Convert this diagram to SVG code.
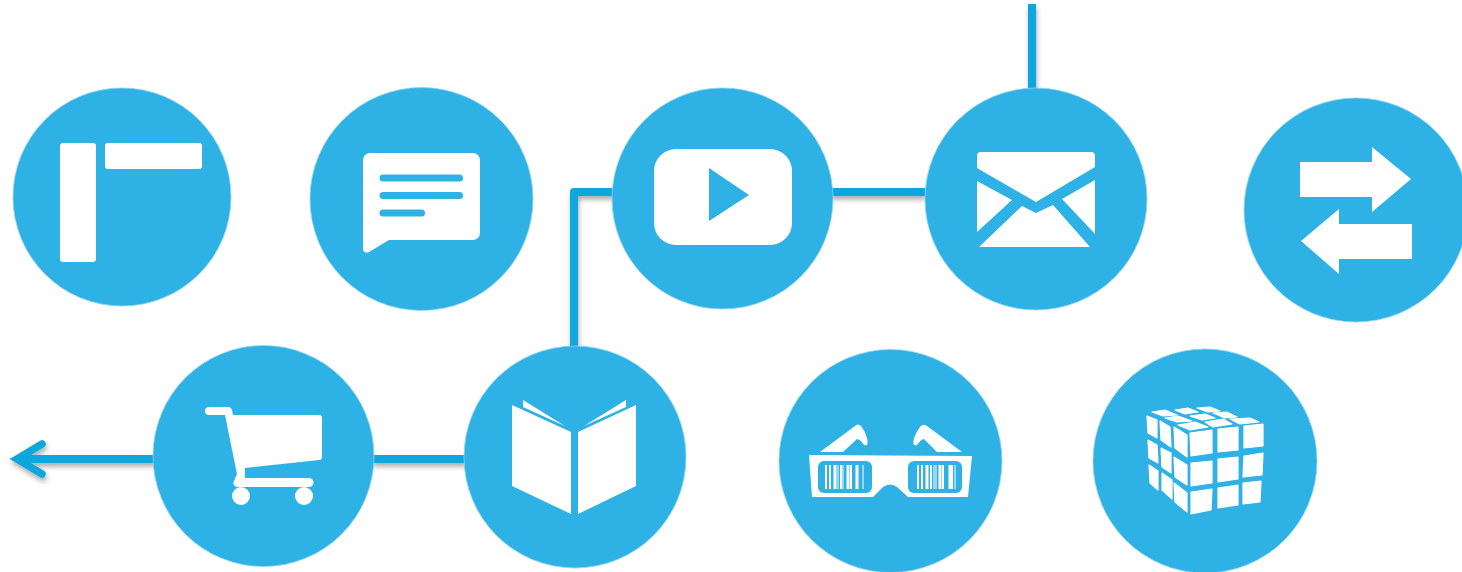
<svg xmlns="http://www.w3.org/2000/svg" width="1462" height="572" viewBox="0 0 1462 572">
<defs>
<filter id="sh" x="-20%" y="-20%" width="140%" height="140%" filterUnits="objectBoundingBox"><feDropShadow dx="1" dy="3.500" stdDeviation="2.500" flood-color="#000" flood-opacity="0.33"/></filter>
</defs>
<style>
.c{fill:#2eb1e5;stroke:#8fd3ef;stroke-width:.8}
.w{fill:#fff}
.t{fill:#fff;stroke:#fff;stroke-width:1.200;stroke-linejoin:round}
.b{fill:#2eb1e5}
.l{fill:none;stroke:#0ca6dd;stroke-width:8;stroke-linejoin:round}
.bl{fill:none;stroke:#2eb1e5;stroke-linecap:round}
</style>
<rect width="1462" height="572" fill="#fff"/>
<g id="connectors" filter="url(#sh)">
<path class="l" d="M1032 4V92"/>
<path class="l" d="M925 192H830"/>
<path class="l" d="M615 192H574V350"/>
<path class="l" d="M466 459H372"/>
<path class="l" d="M155 459H20"/>
<path d="M42 444L17 459L42 474" fill="none" stroke="#0ca6dd" stroke-width="7.500" stroke-linecap="round"/>
<path d="M10 459L30 449V469Z" fill="#0ca6dd"/>
</g>
<g id="node-layout">
<circle class="c" cx="122" cy="197" r="109"/>
<rect class="w" x="60" y="143" width="36" height="119" rx="3"/>
<rect class="w" x="105" y="143" width="97" height="26" rx="3"/>
</g>
<g id="node-chat">
<circle class="c" cx="421.500" cy="199" r="111.500"/>
<path class="w" d="M370 153H473a7 7 0 0 1 7 7V233a7 7 0 0 1 -7 7H389L369 252Q363 254 363 248V160a7 7 0 0 1 7 -7Z"/>
<path class="bl" stroke-width="7" d="M383 178H459.500M383 195.500H459.500M383 213H421.500"/>
</g>
<g id="node-video">
<circle class="c" cx="722.500" cy="198.500" r="110.500"/>
<rect class="w" x="654" y="149" width="138" height="96" rx="22"/>
<path class="b" d="M709 168L749 195L709 221Z"/>
</g>
<g id="node-mail">
<circle class="c" cx="1036" cy="199" r="111"/>
<path class="w" d="M981 152H1091a4 4 0 0 1 4 4V167L1036 202L977 168V156a4 4 0 0 1 4 -4Z"/>
<path class="w" d="M977 181L1012 200L977 232Z"/>
<path class="w" d="M1095 180L1062 199L1095 234Z"/>
<path class="w" d="M1022 206L1036 213L1053 205L1090 247H979Z"/>
</g>
<g id="node-exchange">
<circle class="c" cx="1356" cy="210" r="112"/>
<path class="w" d="M1300 162H1372V147L1411 179L1372 212V197H1300Z"/>
<path class="w" d="M1412 224H1339V209L1301 241L1339 274V259H1412Z"/>
</g>
<g id="node-cart">
<circle class="c" cx="263.500" cy="456" r="110.500"/>
<path class="w" d="M209 407H228Q231 407 232 410L233 415H319a3 3 0 0 1 3 3V457a3 3 0 0 1 -3 3L245 468V478H309a4.500 4.500 0 0 1 0 9H237a4 4 0 0 1 -3 -6L237 474L225 415H209a4 4 0 0 1 0 -8Z"/>
<circle class="w" cx="241" cy="496" r="9"/>
<circle class="w" cx="304" cy="496" r="9"/>
</g>
<g id="node-book">
<circle class="c" cx="575" cy="457" r="111"/>
<path class="w" d="M512 405L571 432V514L512 486Z"/>
<path class="w" d="M636 405L578 432V514L636 486Z"/>
<path class="w" d="M523 400L565 426L523 407Z"/>
<path class="w" d="M626 400L584 426L626 407Z"/>
</g>
<g id="node-glasses">
<circle class="c" cx="890.500" cy="461" r="111.500"/>
<path class="w" d="M809 455L972 456L968 497H908L897 487Q890 482 883 487L873 497H812Z"/>
<path class="w" d="M820 452L855 426Q858 423 861 426Q865 431 867 438Q869 447 864 445Q860 439 857 439L843 452Z"/>
<path class="w" d="M962 452L927 426Q923 423 920 427Q916 432 914 438Q912 447 917 445Q921 439 924 439L937 452Z"/>
<rect class="b" x="818" y="461" width="54" height="32" rx="6"/>
<rect class="b" x="908" y="461" width="54" height="32" rx="6"/>
<g stroke="#fff" fill="none">
<path stroke-width="2" d="M826 465V489M830 465V489M841 465V489M851 465V489M857 465V489"/>
<path stroke-width="3" d="M835 465V489M848 465V489M857 465V489"/>
<path stroke-width="1" d="M838 465V489M843 465V489M863 465V489"/>
<path stroke-width="2" d="M918 465V489M922 465V489M931 465V489M943 465V489M952 465V489"/>
<path stroke-width="3" d="M927 465V489M940 465V489M950 465V489"/>
<path stroke-width="1" d="M934 465V489M936 465V489M955 465V489"/>
</g>
</g>
<g id="node-cube">
<circle class="c" cx="1205" cy="461" r="112"/>
<g class="t">
<path d="M1152 412L1165 410L1177 415L1163 416Z"/>
<path d="M1175 410L1188 408L1198 412L1185 414Z"/>
<path d="M1197 408L1210 407L1220 411L1208 412Z"/>
<path d="M1165 418L1178 416L1192 421L1177 422Z"/>
<path d="M1190 416L1205 414L1215 418L1202 420Z"/>
<path d="M1213 413L1227 412L1237 417L1225 418Z"/>
<path d="M1178 425L1195 422L1208 427L1190 430Z"/>
<path d="M1205 422L1223 419L1232 424L1213 427Z"/>
<path d="M1230 419L1250 418L1259 422L1240 424Z"/>
<path d="M1147 416L1157 420V438L1148 433Z"/>
<path d="M1160 421L1170 427L1171 447L1161 440Z"/>
<path d="M1174 427L1187 435V457L1175 448Z"/>
<path d="M1148 440L1157 445L1158 463L1149 458Z"/>
<path d="M1161 448L1171 453V473L1162 467Z"/>
<path d="M1174 457L1187 465V485L1175 477Z"/>
<path d="M1149 465L1158 471V490L1150 483Z"/>
<path d="M1162 473L1172 480V499L1162 490Z"/>
<path d="M1174 483L1187 493V512L1175 502Z"/>
<path d="M1190 433L1212 430V453L1191 456Z"/>
<path d="M1218 429L1238 427V450L1218 452Z"/>
<path d="M1244 426L1263 424V446L1244 448Z"/>
<path d="M1191 463L1212 461V483L1191 486Z"/>
<path d="M1218 459L1238 457V479L1218 482Z"/>
<path d="M1244 456L1263 453L1262 475L1243 477Z"/>
<path d="M1191 492L1212 489L1211 510L1191 514Z"/>
<path d="M1218 488L1238 485V505L1218 508Z"/>
<path d="M1243 483L1261 481L1260 502L1243 504Z"/>
</g>
</g>
</svg>
